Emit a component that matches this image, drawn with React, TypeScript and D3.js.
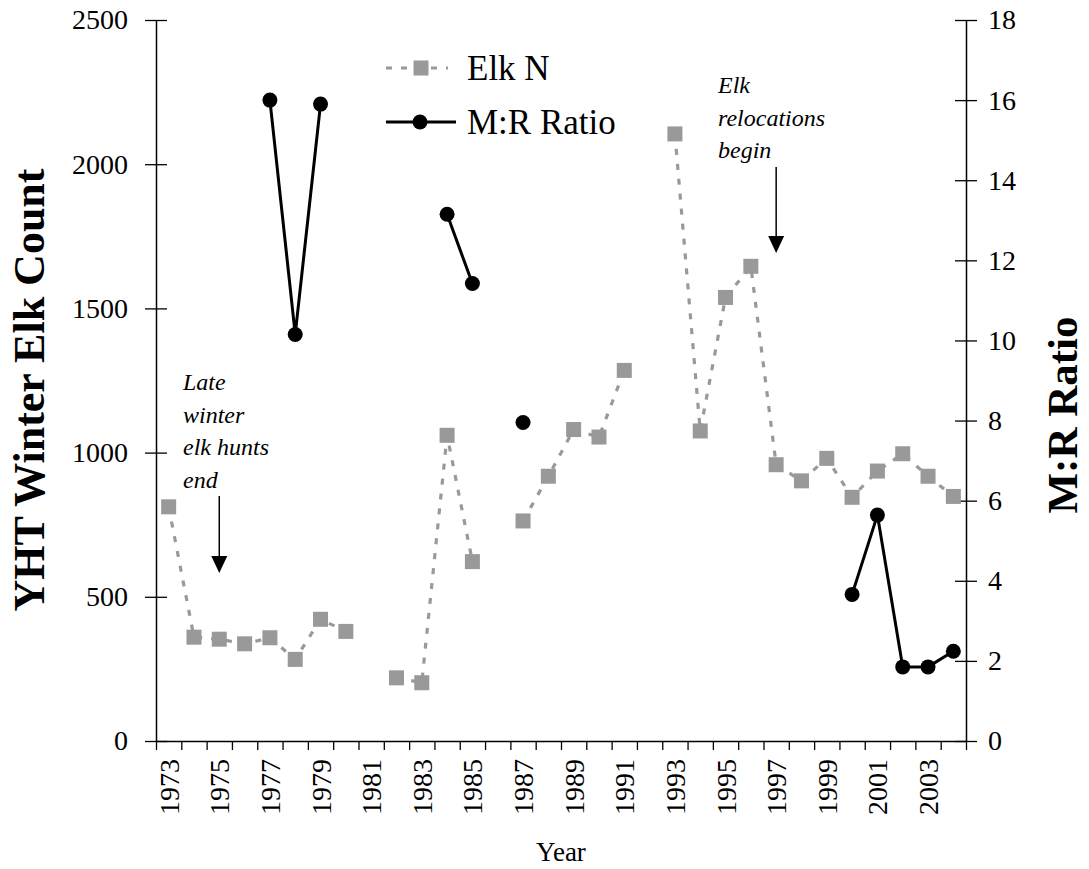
import React, { useEffect, useRef } from "react";
import * as d3 from "d3";

const years = d3.range(1973, 2005);

// winter elk count (left axis), null where no count
const elkN: (number | null)[] = [
  812, 360, 353, 337, 358, 283, 422, 380, null, 219, 202, 1060, 622, null,
  763, 918, 1080, 1054, 1285, null, 2105, 1075, 1538, 1646, 958, 902, 980,
  845, 936, 996, 918, 848,
];

// male:recruit ratio (right axis)
const mrRatio: (number | null)[] = [
  null, null, null, null, 16.0, 10.15, 15.9, null, null, null, null, 13.15,
  11.42, null, 7.95, null, null, null, null, null, null, null, null, null,
  null, null, null, 3.66, 5.64, 1.85, 1.85, 2.24,
];

const leftTicks = [0, 500, 1000, 1500, 2000, 2500];
const rightTicks = [0, 2, 4, 6, 8, 10, 12, 14, 16, 18];

const notes = [
  { lines: ["Late", "winter", "elk hunts", "end"], x: 183, y: 390, year: 1975, y1: 496, y2: 573 },
  { lines: ["Elk", "relocations", "begin"], x: 718, y: 93, year: 1997, y1: 167, y2: 253 },
];

const FONT = "Liberation Serif, Times New Roman, serif";
const ELK_GREY = "#999999";

const App: React.FC = () => {
  const svgRef = useRef<SVGSVGElement>(null);

  useEffect(() => {
    if (!svgRef.current) return;
    const svg = d3.select(svgRef.current);
    svg.selectAll("*").remove();

    const left = 156;
    const right = 966;
    const top = 20;
    const bottom = 741;

    const x = d3.scaleBand<number>().domain(years).range([left, right]).padding(0);
    const xEdge = d3.scaleLinear().domain([1972.5, 2004.5]).range([left, right]);
    const yL = d3.scaleLinear().domain([0, 2500]).range([bottom, top]);
    const yR = d3.scaleLinear().domain([0, 18]).range([bottom, top]);
    const cx = (yr: number) => (x(yr) || 0) + x.bandwidth() / 2;

    // x axis: tick marks on band edges
    const xTicks = svg
      .append("g")
      .attr("transform", `translate(0,${bottom})`)
      .call(
        d3
          .axisBottom(xEdge)
          .tickValues(d3.range(1972.5, 2005, 1))
          .tickSize(9)
          .tickSizeOuter(0)
          .tickFormat(() => "")
      );
    xTicks.select(".domain").attr("stroke", "#000").attr("stroke-width", 1.5);
    xTicks.selectAll(".tick line").attr("stroke", "#000").attr("stroke-width", 1.3);

    // x labels: every other year, rotated
    svg
      .append("g")
      .selectAll("text")
      .data(years.filter((d) => d % 2 === 1))
      .enter()
      .append("text")
      .attr("transform", (d) => `translate(${cx(d) + 10},${bottom + 18}) rotate(-90)`)
      .attr("text-anchor", "end")
      .attr("font-family", FONT)
      .attr("font-size", 28)
      .text((d) => String(d));

    // left axis
    const gL = svg
      .append("g")
      .attr("transform", `translate(${left},0)`)
      .call(
        d3
          .axisLeft(yL)
          .tickValues(leftTicks)
          .tickFormat(d3.format("d"))
          .tickSize(11)
          .tickSizeOuter(0)
          .tickPadding(17)
      )
      .attr("font-family", FONT)
      .attr("font-size", 28);
    gL.select(".domain").attr("stroke", "#000").attr("stroke-width", 1.5);
    gL.selectAll(".tick line").attr("stroke", "#000").attr("stroke-width", 1.3).attr("x2", -11).attr("x1", 11);
    gL.selectAll(".tick text").attr("fill", "#000");

    // right axis
    const gR = svg
      .append("g")
      .attr("transform", `translate(${right},0)`)
      .call(
        d3
          .axisRight(yR)
          .tickValues(rightTicks)
          .tickFormat(d3.format("d"))
          .tickSize(11)
          .tickSizeOuter(0)
          .tickPadding(11)
      )
      .attr("font-family", FONT)
      .attr("font-size", 28);
    gR.select(".domain").attr("stroke", "#000").attr("stroke-width", 1.5);
    gR.selectAll(".tick line").attr("stroke", "#000").attr("stroke-width", 1.3).attr("x1", -11).attr("x2", 11);
    gR.selectAll(".tick text").attr("fill", "#000");

    // axis titles
    svg
      .append("text")
      .attr("transform", `translate(44,390) rotate(-90)`)
      .attr("text-anchor", "middle")
      .attr("font-family", FONT)
      .attr("font-size", 44)
      .attr("font-weight", "bold")
      .text("YHT Winter Elk Count");

    svg
      .append("text")
      .attr("transform", `translate(1077,415) rotate(-90)`)
      .attr("text-anchor", "middle")
      .attr("font-family", FONT)
      .attr("font-size", 43)
      .attr("font-weight", "bold")
      .text("M:R Ratio");

    svg
      .append("text")
      .attr("x", (left + right) / 2)
      .attr("y", 861)
      .attr("text-anchor", "middle")
      .attr("font-family", FONT)
      .attr("font-size", 27)
      .text("Year");

    // elk series
    const elkPts = years.map((yr, i) => ({ yr, v: elkN[i] }));
    const elkLine = d3
      .line<{ yr: number; v: number | null }>()
      .defined((d) => d.v != null)
      .x((d) => cx(d.yr))
      .y((d) => yL(d.v as number));
    svg
      .append("path")
      .datum(elkPts)
      .attr("d", elkLine)
      .attr("fill", "none")
      .attr("stroke", ELK_GREY)
      .attr("stroke-width", 3.2)
      .attr("stroke-dasharray", "6,9");
    const sq = 15;
    svg
      .append("g")
      .selectAll("rect")
      .data(elkPts.filter((d) => d.v != null))
      .enter()
      .append("rect")
      .attr("x", (d) => cx(d.yr) - sq / 2)
      .attr("y", (d) => yL(d.v as number) - sq / 2)
      .attr("width", sq)
      .attr("height", sq)
      .attr("fill", ELK_GREY);

    // M:R series
    const mrPts = years.map((yr, i) => ({ yr, v: mrRatio[i] }));
    const mrLine = d3
      .line<{ yr: number; v: number | null }>()
      .defined((d) => d.v != null)
      .x((d) => cx(d.yr))
      .y((d) => yR(d.v as number));
    svg
      .append("path")
      .datum(mrPts)
      .attr("d", mrLine)
      .attr("fill", "none")
      .attr("stroke", "#000")
      .attr("stroke-width", 3);
    svg
      .append("g")
      .selectAll("circle")
      .data(mrPts.filter((d) => d.v != null))
      .enter()
      .append("circle")
      .attr("cx", (d) => cx(d.yr))
      .attr("cy", (d) => yR(d.v as number))
      .attr("r", 7.5)
      .attr("fill", "#000");

    // legend
    const lg = svg.append("g").attr("font-family", FONT).attr("font-size", 35);
    lg.append("line")
      .attr("x1", 386).attr("x2", 448).attr("y1", 68).attr("y2", 68)
      .attr("stroke", ELK_GREY).attr("stroke-width", 3.2).attr("stroke-dasharray", "6,9");
    lg.append("rect")
      .attr("x", 421 - sq / 2).attr("y", 68 - sq / 2).attr("width", sq).attr("height", sq)
      .attr("fill", ELK_GREY);
    lg.append("text").attr("x", 467).attr("y", 80).text("Elk N");
    lg.append("line")
      .attr("x1", 386).attr("x2", 456).attr("y1", 122).attr("y2", 122)
      .attr("stroke", "#000").attr("stroke-width", 3);
    lg.append("circle").attr("cx", 420).attr("cy", 122).attr("r", 7.5).attr("fill", "#000");
    lg.append("text").attr("x", 467).attr("y", 134).text("M:R Ratio");

    // annotations with arrows
    notes.forEach((n) => {
      const t = svg
        .append("text")
        .attr("font-family", FONT)
        .attr("font-size", 24)
        .attr("font-style", "italic");
      n.lines.forEach((ln, i) => {
        t.append("tspan").attr("x", n.x).attr("y", n.y + i * 32.5).text(ln);
      });
      const ax = cx(n.year);
      svg
        .append("line")
        .attr("x1", ax).attr("x2", ax).attr("y1", n.y1).attr("y2", n.y2 - 14)
        .attr("stroke", "#000").attr("stroke-width", 1.5);
      svg
        .append("path")
        .attr("d", `M${ax - 8},${n.y2 - 17} L${ax + 8},${n.y2 - 17} L${ax},${n.y2} Z`)
        .attr("fill", "#000");
    });
  }, []);

  return (
    <svg
      ref={svgRef}
      width={1089}
      height={869}
      fontFamily={FONT}
      style={{ position: "absolute", left: 0, top: 0, background: "#fff" }}
    />
  );
};

export default App;
